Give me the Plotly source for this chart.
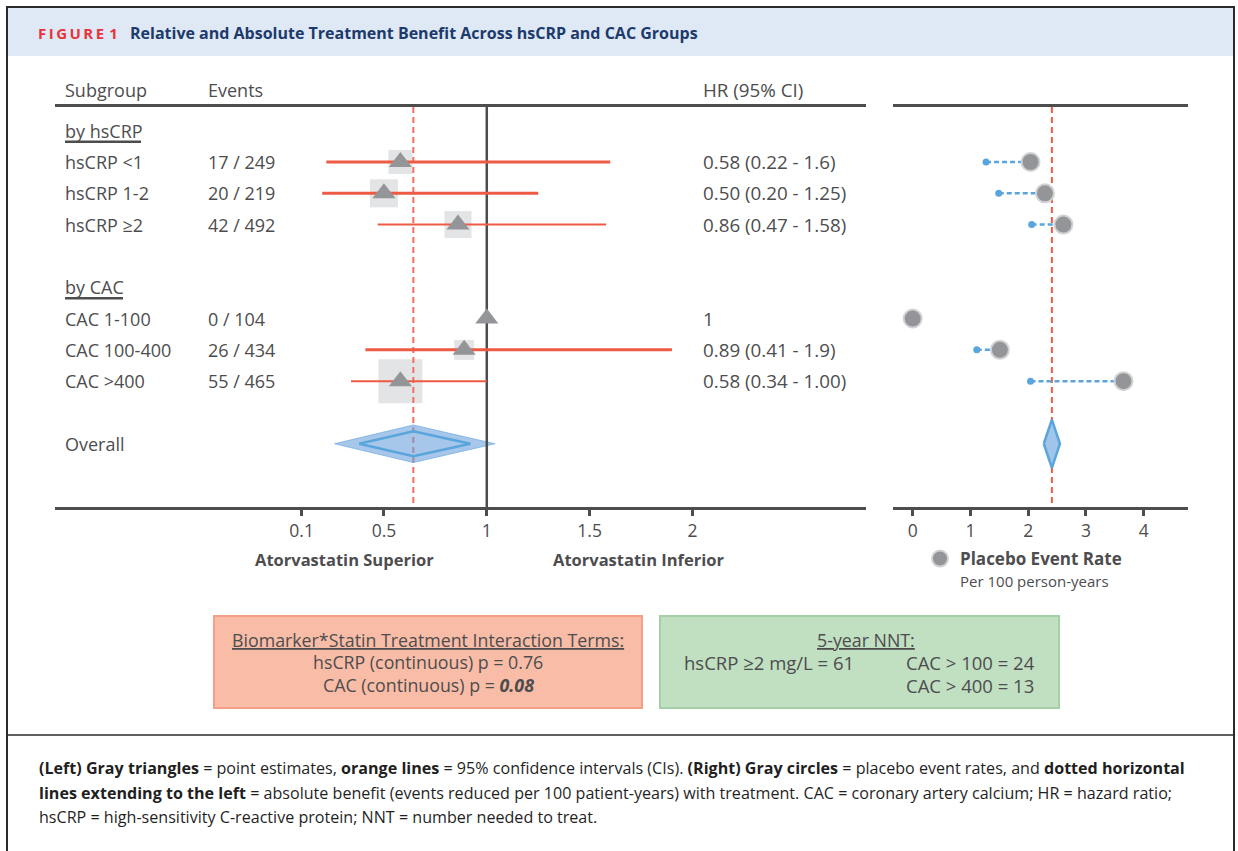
import plotly.graph_objects as go

W, H = 1238, 851

# ---------------- data ----------------
group_labels = ["by hsCRP", "by CAC"]
subgroups = ["hsCRP <1", "hsCRP 1-2", "hsCRP ≥2", "CAC 1-100", "CAC 100-400", "CAC >400"]
events = ["17 / 249", "20 / 219", "42 / 492", "0 / 104", "26 / 434", "55 / 465"]
hr = [0.58, 0.50, 0.86, 1.0, 0.89, 0.58]
hr_lo = [0.22, 0.20, 0.47, None, 0.41, 0.34]
hr_hi = [1.6, 1.25, 1.58, None, 1.9, 1.00]
hr_text = ["0.58 (0.22 - 1.6)", "0.50 (0.20 - 1.25)", "0.86 (0.47 - 1.58)", "1",
           "0.89 (0.41 - 1.9)", "0.58 (0.34 - 1.00)"]
placebo_rate = [2.04, 2.29, 2.61, 0.0, 1.51, 3.65]
treated_rate = [1.27, 1.49, 2.06, None, 1.11, 2.04]
overall_label = "Overall"
overall_hr = 0.643
overall_hr_outer = [0.26, 1.04]
overall_hr_inner = [0.38, 0.92]
overall_rate = 2.41
hr_ticks = [0.1, 0.5, 1, 1.5, 2]
rate_ticks = [0, 1, 2, 3, 4]

# ---------------- layout / style ----------------
group_rows = [0, 5]
group_underline_px = [76, 58]
sub_rows = [1, 2, 3, 6, 7, 8]
overall_row = 10
box_px = [24, 28, 27, 0, 20, 44]
ci_width = [3, 3, 2, 0, 3, 2]
Y_TOP, Y_BOT = -0.757, 12.02
ROW_PX = 31.3

FONT = "Open Sans, Noto Sans, DejaVu Sans, sans-serif"
TXT = "#4d4d4f"
AX = "#4d4d4d"
RED = "#ee5a44"
RED_D = "#f2705f"
BLUE = "#5aa5dc"
GRAY = "#939598"
LGRAY = "#d7d8da"


def X(px):
    return px / W


def Y(py):
    return 1 - py / H


fig = go.Figure()

# gray weight squares
fig.add_trace(go.Scatter(
    x=hr, y=sub_rows, mode="markers", xaxis="x", yaxis="y",
    marker=dict(symbol="square", size=box_px, color=LGRAY, line=dict(width=0)),
    hoverinfo="skip", showlegend=False))

# dashed overall HR line (left)
fig.add_trace(go.Scatter(
    x=[overall_hr, overall_hr], y=[Y_TOP, Y_BOT], mode="lines", xaxis="x", yaxis="y",
    line=dict(color=RED_D, width=2, dash="6px,4px"), hoverinfo="skip", showlegend=False))

# overall diamond (left)
ox = [overall_hr_outer[0], overall_hr, overall_hr_outer[1], overall_hr, overall_hr_outer[0]]
oy = [overall_row, overall_row - 0.6, overall_row, overall_row + 0.6, overall_row]
fig.add_trace(go.Scatter(
    x=ox, y=oy, mode="lines", fill="toself", fillcolor="rgba(102,157,218,0.58)",
    line=dict(color="rgba(110,170,225,0.7)", width=1), xaxis="x", yaxis="y",
    hoverinfo="skip", showlegend=False))
ix = [overall_hr_inner[0], overall_hr, overall_hr_inner[1], overall_hr, overall_hr_inner[0]]
iy = [overall_row, overall_row - 0.4, overall_row, overall_row + 0.4, overall_row]
fig.add_trace(go.Scatter(
    x=ix, y=iy, mode="lines", line=dict(color=BLUE, width=2.5), xaxis="x", yaxis="y",
    hoverinfo="skip", showlegend=False))

# line of no effect
fig.add_trace(go.Scatter(
    x=[1, 1], y=[Y_TOP, Y_BOT], mode="lines", xaxis="x", yaxis="y",
    line=dict(color=AX, width=2.5), hoverinfo="skip", showlegend=False))

# confidence intervals
for lo, hi, r, w in zip(hr_lo, hr_hi, sub_rows, ci_width):
    if lo is None:
        continue
    fig.add_trace(go.Scatter(
        x=[lo, hi], y=[r, r], mode="lines", xaxis="x", yaxis="y",
        line=dict(color=RED, width=w), hoverinfo="skip", showlegend=False))

# point estimates
fig.add_trace(go.Scatter(
    x=hr, y=sub_rows, mode="markers", xaxis="x", yaxis="y",
    marker=dict(symbol="triangle-up", size=20, color=GRAY, line=dict(width=0)),
    hoverinfo="skip", showlegend=False))

# ---- right panel ----
fig.add_trace(go.Scatter(
    x=[overall_rate, overall_rate], y=[Y_TOP, Y_BOT], mode="lines", xaxis="x2", yaxis="y",
    line=dict(color=RED, width=2, dash="6px,4px"), hoverinfo="skip", showlegend=False))

for t, p, r in zip(treated_rate, placebo_rate, sub_rows):
    if t is None:
        continue
    fig.add_trace(go.Scatter(
        x=[t, p], y=[r, r], mode="lines", xaxis="x2", yaxis="y",
        line=dict(color=BLUE, width=2.5, dash="5px,3px"), hoverinfo="skip", showlegend=False))

fig.add_trace(go.Scatter(
    x=treated_rate, y=sub_rows, mode="markers", xaxis="x2", yaxis="y",
    marker=dict(symbol="circle", size=7, color=BLUE), hoverinfo="skip", showlegend=False))

fig.add_trace(go.Scatter(
    x=placebo_rate, y=sub_rows, mode="markers", xaxis="x2", yaxis="y",
    marker=dict(symbol="circle", size=18, color=GRAY, line=dict(color="#d2d2d4", width=2)),
    name="<b>Placebo Event Rate</b><br><span style='font-size:15px'>Per 100 person-years</span>",
    hoverinfo="skip", showlegend=True))

dx, dy = 0.14, 0.77
fig.add_trace(go.Scatter(
    x=[overall_rate - dx, overall_rate, overall_rate + dx, overall_rate, overall_rate - dx],
    y=[overall_row, overall_row - dy, overall_row, overall_row + dy, overall_row],
    mode="lines", fill="toself", fillcolor="#a0c5ea", line=dict(color=BLUE, width=2.5),
    xaxis="x2", yaxis="y", hoverinfo="skip", showlegend=False))

# ---------------- annotations ----------------
ann = []


def txt(x, y, s, size=18, xanchor="left", yref="paper", color=TXT, **kw):
    ann.append(dict(x=x, y=y, xref="paper", yref=yref, text=s, showarrow=False,
                    xanchor=xanchor, yanchor="middle",
                    font=dict(family=FONT, size=size, color=color), **kw))


# title
txt(X(36), Y(33), "<b>F\u2009I\u2009G\u2009U\u2009R\u2009E\u2009\u20091</b>", size=15, color="#e8323c")
txt(X(128), Y(33), "<b>Relative and Absolute Treatment Benefit Across hsCRP and CAC Groups</b>",
    size=16, color="#1d3a6c")

# column headers
txt(X(63), Y(90), "Subgroup")
txt(X(206), Y(90), "Events")
txt(X(701), Y(90), "HR (95% CI)", size=18.8)

for g, r in zip(group_labels, group_rows):
    txt(X(63), r, g, yref="y")
for s, e, h, r in zip(subgroups, events, hr_text, sub_rows):
    txt(X(63), r, s, yref="y")
    txt(X(206), r, e, yref="y")
    txt(X(701), r, h, yref="y", size=18.8)
txt(X(63), overall_row, overall_label, yref="y")

# axis direction labels
txt(X(344), Y(559), "<b>Atorvastatin Superior</b>", size=16.5, xanchor="center")
txt(X(638), Y(559), "<b>Atorvastatin Inferior</b>", size=16.5, xanchor="center")

# boxes text
txt(X(428), Y(640), "<u>Biomarker*Statin Treatment Interaction Terms:</u>", size=17.8, xanchor="center")
txt(X(428), Y(662), "hsCRP (continuous) p = 0.76", size=17.8, xanchor="center")
txt(X(428), Y(685), "CAC (continuous) p = <b><i>0.08</i></b>", size=17.8, xanchor="center")
txt(X(866), Y(640), "<u>5-year NNT:</u>", size=17.8, xanchor="center")
txt(X(682), Y(662), "hsCRP ≥2 mg/L = 61", size=18.5)
txt(X(904), Y(662), "CAC > 100 = 24", size=18.5)
txt(X(904), Y(685), "CAC > 400 = 13", size=18.5)

# caption
cap = [
    "<b>(Left) Gray triangles</b> = point estimates, <b>orange lines</b> = 95% confidence intervals (CIs). "
    "<b>(Right) Gray circles</b> = placebo event rates, and <b>dotted horizontal</b>",
    "<b>lines extending to the left</b> = absolute benefit (events reduced per 100 patient-years) with "
    "treatment. CAC = coronary artery calcium; HR = hazard ratio;",
    "hsCRP = high-sensitivity C-reactive protein; NNT = number needed to treat.",
]
for i, c in enumerate(cap):
    txt(X(37), Y(768 + 24.5 * i), c, size=16.1, color="#1f1f1f")

# ---------------- shapes ----------------
shapes = [
    dict(type="rect", xref="paper", yref="paper", x0=X(8), x1=X(1233), y0=Y(8), y1=Y(56),
         fillcolor="#dee9f5", line=dict(width=0), layer="below"),
    dict(type="rect", xref="paper", yref="paper", x0=X(7), x1=X(1234), y0=Y(7), y1=Y(880),
         fillcolor="rgba(0,0,0,0)", line=dict(color="#2b2b2b", width=2)),
    dict(type="line", xref="paper", yref="paper", x0=X(7), x1=X(1234), y0=Y(735), y1=Y(735),
         line=dict(color="#2b2b2b", width=1.5)),
    dict(type="rect", xref="paper", yref="paper", x0=X(214), x1=X(642), y0=Y(616), y1=Y(708),
         fillcolor="#f9bca6", line=dict(color="#f4a088", width=2), layer="below"),
    dict(type="rect", xref="paper", yref="paper", x0=X(660), x1=X(1059), y0=Y(616), y1=Y(708),
         fillcolor="#c1dfc1", line=dict(color="#a5d0a5", width=2), layer="below"),
]
# thick underlines under the group headers (row-based, offset below text)
for r, wpx in zip(group_rows, group_underline_px):
    yy = 130.7 + ROW_PX * r + 11
    shapes.append(dict(type="line", xref="paper", yref="paper", x0=X(65), x1=X(65 + wpx),
                       y0=Y(yy), y1=Y(yy), line=dict(color=AX, width=2.5)))

axis_common = dict(showgrid=False, zeroline=False, showline=True, mirror=True, linewidth=3,
                   linecolor=AX, ticks="outside", ticklen=6, tickwidth=3, tickcolor=AX,
                   tickfont=dict(family=FONT, size=17.5, color=TXT), fixedrange=True)

fig.update_layout(
    width=W, height=H, margin=dict(l=0, r=0, t=0, b=0),
    paper_bgcolor="white", plot_bgcolor="rgba(0,0,0,0)",
    xaxis=dict(domain=[X(55), X(866)], range=[-1.099, 2.8435], anchor="y",
               tickvals=hr_ticks, ticktext=[str(t) for t in hr_ticks], **axis_common),
    xaxis2=dict(domain=[X(893), X(1188)], range=[-0.341, 4.767], anchor="y",
                tickvals=rate_ticks, **axis_common),
    yaxis=dict(domain=[Y(507), Y(107)], range=[Y_BOT, Y_TOP], visible=False, fixedrange=True),
    showlegend=True,
    legend=dict(x=X(920), y=Y(541), xanchor="left", yanchor="top", bgcolor="rgba(0,0,0,0)",
                font=dict(family=FONT, size=17, color=TXT), itemwidth=30, borderwidth=0,
                valign="top"),
    annotations=ann, shapes=shapes,
)

fig.write_html("out.html", config={"displayModeBar": False},
               post_script="document.body.style.margin='0px';document.body.style.overflow='hidden';")
